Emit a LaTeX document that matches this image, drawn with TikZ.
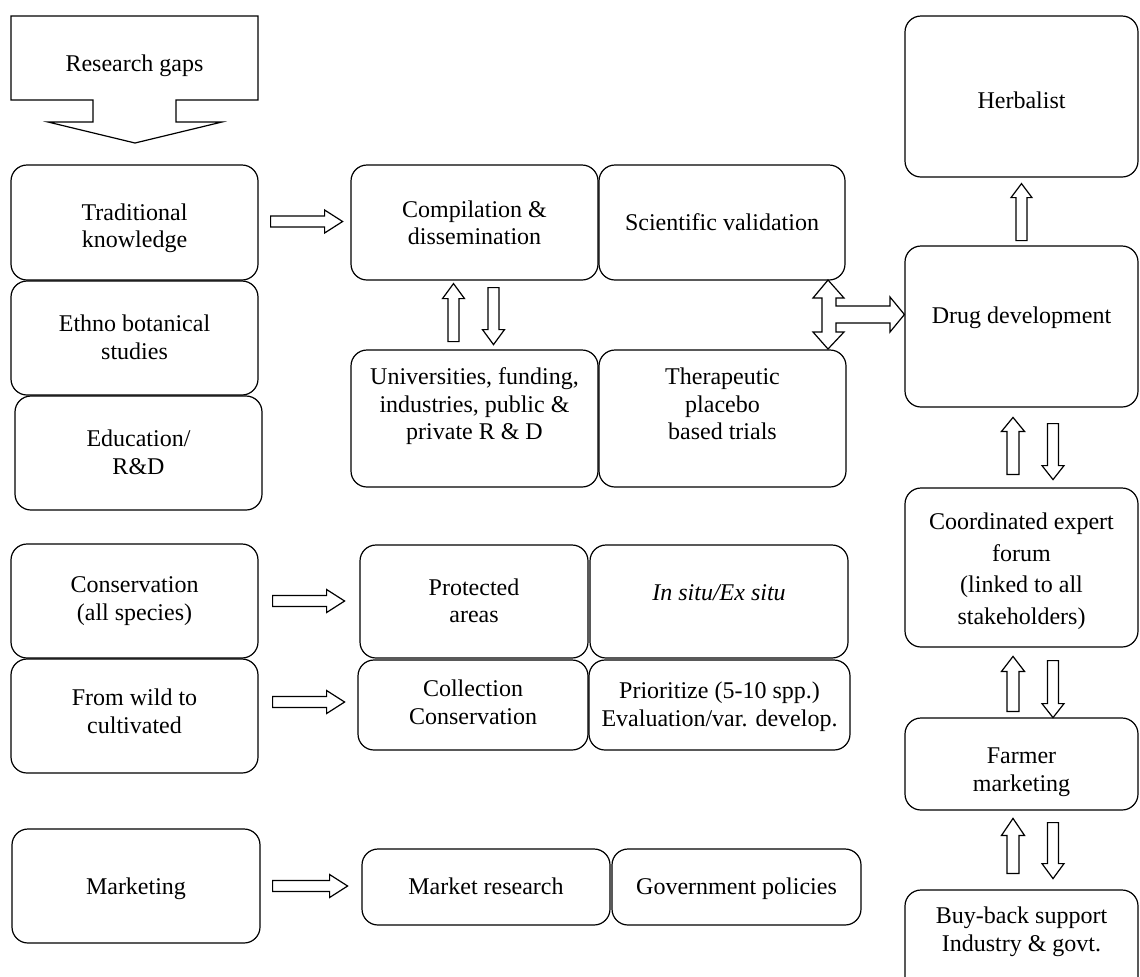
\documentclass[tikz,border=0pt]{standalone}
\usepackage{fontspec}
\setmainfont{Liberation Serif}
\usetikzlibrary{calc}
\tikzset{
  box/.style={draw, line width=0.6pt, rounded corners=8pt, inner sep=0pt,
    font=\fontsize{12}{13.8}\selectfont},
  barrowstyle/.style={draw, line width=0.6pt, fill=white, line join=miter},
}
% [#1 raise], #2 name, #3 x1, #4 y1, #5 x2, #6 y2, #7 text
\newcommand\bx[7][0pt]{\node[box, minimum width={(#5-#3)*0.5pt}, minimum height={(#6-#4)*0.5pt}]
  (#2) at ({(#3+#5)/2},{(#4+#6)/2}) {\raisebox{#1}[\height][\depth]{\begin{tabular}{@{}c@{}}#7\end{tabular}}};}
% #1 tail point, #2 rotation, #3 length, #4 shaft half width, #5 head half width, #6 head length
\newcommand\barrow[6]{\draw[barrowstyle, shift={#1}, rotate=#2]
  (0,-#4) -- (#3-#6,-#4) -- (#3-#6,-#5) -- (#3,0) -- (#3-#6,#5) -- (#3-#6,#4) -- (0,#4) -- cycle;}
\begin{document}
\begin{tikzpicture}[x=0.5pt,y=-0.5pt]
\useasboundingbox (0,0) rectangle (1140,976);
\clip (0,0) rectangle (1140,976);

% Research gaps callout
\draw[line width=0.6pt, line join=miter] (11,16) -- (258,16) -- (258,100) -- (176,100) -- (176,122) -- (222,122)
  -- (135,143) -- (48,122) -- (93,122) -- (93,100) -- (11,100) -- cycle;
\node[font=\fontsize{12}{13.8}\selectfont] (rg) at (134.5,66) {Research gaps};

% left column
\bx[-3pt]{tk}{11}{165}{258}{280}{Traditional\\knowledge}
\bx[-1pt]{eb}{11}{281}{258}{395}{Ethno botanical\\studies}
\bx[-1pt]{ed}{15}{396}{262}{510}{Education/\\R\&D}

% middle top
\bx[-1.5pt]{comp}{351}{165}{598}{280}{Compilation \&\\dissemination}
\bx[-1pt]{sci}{599}{165}{845}{280}{Scientific validation}
\bx[6pt]{uni}{351}{350}{598}{487}{Universities, funding,\\industries, public \&\\private R \& D}
\bx[6pt]{ther}{599}{350}{846}{487}{Therapeutic\\placebo\\based trials}

% right column
\bx[-3pt]{herb}{905}{16}{1138}{177}{Herbalist}
\bx[4.5pt]{drug}{905}{246}{1138}{407}{Drug development}
\bx[-2pt]{forum}{905}{488}{1138}{647}{Coordinated expert\\[2pt]forum\\[2pt](linked to all\\[2pt]stakeholders)}
\bx[-4pt]{farm}{905}{718}{1138}{810}{Farmer\\marketing}
\bx[6.5pt]{buy}{905}{890}{1138}{1000}{Buy-back support\\Industry \& govt.}

% conservation section
\bx{cons}{11}{544}{258}{658}{Conservation\\(all species)}
\bx[1pt]{wild}{11}{659}{258}{773}{From wild to\\cultivated}
\bx[-1pt]{prot}{360}{545}{588}{658}{Protected\\areas}
\bx[3.5pt]{insitu}{590}{545}{848}{658}{\itshape In situ/Ex situ}
\bx{coll}{358}{660}{588}{750}{Collection\\Conservation}
\bx[-1pt]{prio}{589}{660}{850}{750}{Prioritize (5-10 spp.)\\Evaluation/var. develop.}

% marketing section
\bx[-1.5pt]{mkt}{12}{829}{260}{943}{Marketing}
\bx[-1pt]{mres}{362}{849}{610}{925}{Market research}
\bx[-1pt]{gov}{612}{849}{861}{925}{Government policies}

% block arrows
\barrow{($(tk.east)+(12,-1)$)}{0}{72}{5.5}{11.5}{18}
\barrow{($(comp.south)+(-21,61)$)}{90}{58}{5.5}{11}{15}
\barrow{($(comp.south)+(19,7)$)}{-90}{57}{5.5}{11}{15}
\barrow{($(cons.east)+(14,0)$)}{0}{72}{5.5}{11.5}{18}
\barrow{($(wild.east)+(14,-14)$)}{0}{72}{5.5}{11.5}{18}
\barrow{($(mkt.east)+(12,0)$)}{0}{75}{5.5}{11.5}{18}
\barrow{($(herb.south)+(0,63)$)}{90}{57}{5.5}{10.5}{14}
% drug <-> forum
\barrow{($(forum.north)+(-8.5,-13)$)}{90}{57}{6}{11.5}{14}
\barrow{($(drug.south)+(31.5,16)$)}{-90}{56}{5.5}{11}{14}
% forum <-> farmer
\barrow{($(farm.north)+(-8.5,-6)$)}{90}{55}{6}{11.5}{15}
\barrow{($(forum.south)+(31.5,13)$)}{-90}{57}{5.5}{11}{14}
% farmer <-> buy-back
\barrow{($(buy.north)+(-8.5,-16)$)}{90}{55}{6}{11.5}{17}
\barrow{($(farm.south)+(31.5,12)$)}{-90}{56}{5.5}{11}{15}

% cross double arrow between sci/ther and drug
\draw[barrowstyle] (828,280) -- (844,298) -- (836,298) -- (836,306) -- (890,306) -- (890,297)
  -- (drug.west |- 0,314.5) -- (890,332) -- (890,323) -- (836,323) -- (836,332) -- (844,332)
  -- (828,349) -- (813,332) -- (822,332) -- (822,298) -- (813,298) -- cycle;
\end{tikzpicture}
\end{document}
